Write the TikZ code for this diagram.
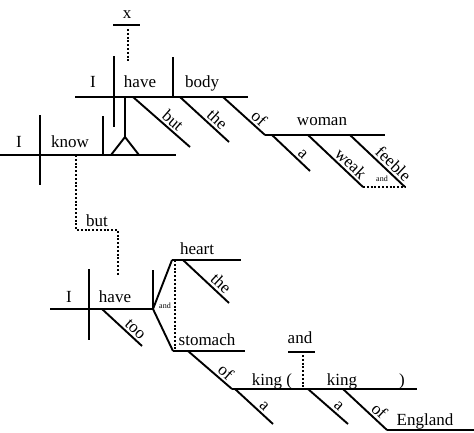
\documentclass[tikz,border=0pt]{standalone}
\usepackage{fontspec}
\setmainfont{Liberation Serif}
\usetikzlibrary{positioning}

\begin{document}
\begin{tikzpicture}[x=1pt,y=-1pt,
  rule/.style={line width=1.9pt},
  dots/.style={line width=1.9pt,dash pattern=on 1.9pt off 1.9pt},
  word/.style={anchor=base,inner sep=0pt,font=\fontsize{17}{20}\selectfont},
  slant/.style={sloped,above,inner sep=2pt,font=\fontsize{17}{20}\selectfont},
  small/.style={anchor=base,inner sep=0pt,font=\fontsize{8}{9}\selectfont}]
\useasboundingbox (0,0) rectangle (474,432);

% I know ...
\coordinate (kL) at (0,155);
\coordinate (kR) at (176,155);
\draw[rule] (kL) -- (kR);
\draw[rule] (40,115) -- (40,185);
\draw[rule] (103,116) -- (103,155);
\node[word] (kI) at (19,147) {I};
\node[word] (know) at (70,147) {know};

% pedestal
\coordinate (pTop) at (125,97);
\coordinate (pFork) at (125,137);
\draw[rule] (pTop) -- (pFork);
\draw[rule] (111,155) -- (pFork) -- (139,155);

% I have body
\coordinate (hL) at (75,97);
\coordinate (hR) at (248,97);
\draw[rule] (hL) -- (hR);
\draw[rule] (114,56) -- (114,127);
\draw[rule] (173,57) -- (173,97);
\node[word] (hI) at (93,87) {I};
\node[word] (have) at (140,87) {have};
\node[word] (body) at (202,87) {body};
\node[word] (x) at (127,18) {x};
\draw[rule] (113,25) -- (140,25);
\draw[dots] (128,29) -- (128,62);
\draw[rule] (133,97) -- (190,147) node[slant,pos=0.6] (but1) {but};
\draw[rule] (180,97) -- (229,142) node[slant,pos=0.64] (the1) {the};
\coordinate (wL) at (265,135);
\coordinate (wR) at (385,135);
\draw[rule] (223,97) -- (wL) node[slant,pos=0.72] (of1) {of};
\draw[rule] (wL) -- (wR);
\node[word] (woman) at (322,125) {woman};
\draw[rule] (272,135) -- (310,171) node[slant,pos=0.68] (a1) {a};
\coordinate (weakE) at (363,187);
\coordinate (feebleE) at (405,187);
\draw[rule] (308,135) -- (weakE) node[slant,pos=0.67] (weak) {weak};
\draw[rule] (350,135) -- (feebleE) node[slant,pos=0.68] (feeble) {feeble};
\draw[dots] (weakE) -- (feebleE);
\node[small] (and1) at (382,181) {and};

% but
\draw[dots] (76,155) -- (76,230) -- (118,230) -- (118,275);
\node[word] (but) at (97,226) {but};

% I have too heart and stomach
\coordinate (sL) at (50,309);
\coordinate (sFork) at (153,309);
\draw[rule] (sL) -- (sFork);
\draw[rule] (89,269) -- (89,340);
\draw[rule] (153,270) -- (sFork);
\node[word] (sI) at (69,302) {I};
\node[word] (have2) at (115,302) {have};
\draw[rule] (102,309) -- (142,346) node[slant,pos=0.7] (too) {too};
\coordinate (heartL) at (172,260);
\coordinate (stomL) at (173,351);
\draw[rule] (heartL) -- (sFork) -- (stomL);
\draw[rule] (heartL) -- (241,260);
\draw[rule] (stomL) -- (245,351);
\draw[dots] (175,260) -- (175,351);
\node[word] (heart) at (197,254) {heart};
\node[word] (stomach) at (207,345) {stomach};
\node[small] (and2) at (165,308) {and};
\draw[rule] (183,260) -- (229,303) node[slant,pos=0.7] (the2) {the};

% of king and king of England
\coordinate (kgL) at (232,389);
\coordinate (kgR) at (417,389);
\draw[rule] (188,351) -- (kgL) node[slant,pos=0.73] (of2) {of};
\draw[rule] (kgL) -- (kgR);
\node[word] (king1) at (272,385) {king (};
\node[word] (king2) at (342,385) {king};
\node[word] (paren) at (402,385) {)};
\node[word] (and3) at (300,343) {and};
\draw[rule] (288,352) -- (315,352);
\draw[dots] (303,355) -- (303,389);
\draw[rule] (235,389) -- (273,424) node[slant,pos=0.64] (a2) {a};
\draw[rule] (308,389) -- (348,424) node[slant,pos=0.65] (a3) {a};
\coordinate (enL) at (387,430);
\coordinate (enR) at (474,430);
\draw[rule] (343,389) -- (enL) node[slant,pos=0.69] (of3) {of};
\draw[rule] (enL) -- (enR);
\node[word] (england) at (425,425) {England};
\end{tikzpicture}
\end{document}
